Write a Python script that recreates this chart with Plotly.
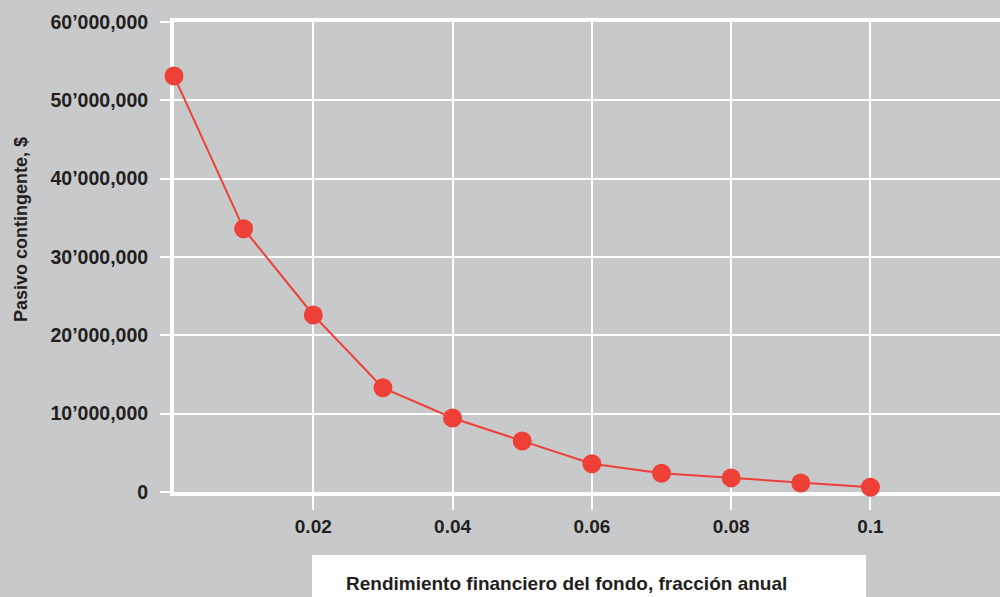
import plotly.graph_objects as go

rendimiento = [0.0, 0.01, 0.02, 0.03, 0.04, 0.05, 0.06, 0.07, 0.08, 0.09, 0.10]
pasivo = [53.1e6, 33.6e6, 22.6e6, 13.3e6, 9.45e6, 6.5e6, 3.6e6, 2.4e6, 1.8e6, 1.15e6, 0.6e6]

y_tickvals = [0, 10e6, 20e6, 30e6, 40e6, 50e6, 60e6]
y_ticktext = ["0", "10’000,000", "20’000,000", "30’000,000", "40’000,000", "50’000,000", "60’000,000"]
x_tickvals = [0.02, 0.04, 0.06, 0.08, 0.1]
x_ticktext = ["0.02", "0.04", "0.06", "0.08", "0.1"]

x_title = "Rendimiento financiero del fondo, fracción anual"
y_title = "Pasivo contingente, $"

BG = "#c8c9cb"
RED = "#ee4036"
TXT = "#231f20"
FONT = "Liberation Sans Narrow, Arial Narrow, Liberation Sans, Arial"

fig = go.Figure()
fig.add_trace(go.Scatter(
    x=rendimiento, y=pasivo, mode="lines+markers",
    line=dict(color=RED, width=2),
    marker=dict(color=RED, size=19),
    cliponaxis=False, hoverinfo="skip",
))

fig.update_layout(
    width=1000, height=597,
    paper_bgcolor=BG, plot_bgcolor=BG,
    margin=dict(l=174, r=0, t=22, b=105, autoexpand=False),
    showlegend=False,
    font=dict(family=FONT, color=TXT, size=19, weight="bold"),
    xaxis=dict(
        range=[0, 0.1186], tickvals=x_tickvals, ticktext=x_ticktext,
        showgrid=True, gridcolor="white", gridwidth=1.5,
        showline=True, linecolor="white", linewidth=4, mirror=True,
        ticks="outside", ticklen=14, tickcolor="white", tickwidth=1.5,
        ticklabelstandoff=0, layer="below traces", zeroline=False,
        tickfont=dict(family=FONT, size=19, color=TXT, weight="bold"),
    ),
    yaxis=dict(
        range=[0, 60e6], tickvals=y_tickvals, ticktext=y_ticktext,
        showgrid=True, gridcolor="white", gridwidth=1.5,
        showline=True, linecolor="white", linewidth=4,
        ticks="outside", ticklen=10, tickcolor="white", tickwidth=1.5,
        ticklabelstandoff=8, layer="below traces", zeroline=False,
        tickfont=dict(family=FONT, size=19.5, color=TXT, weight="bold"),
    ),
    shapes=[dict(
        type="rect", xref="paper", yref="paper",
        x0=(312 - 174) / 826, x1=(866 - 174) / 826,
        y0=(492 - 600) / 470, y1=(492 - 555) / 470,
        fillcolor="white", line=dict(width=0), layer="below",
    )],
    annotations=[
        dict(text=x_title, xref="paper", yref="paper",
             x=(566 - 174) / 826, y=(492 - 583) / 470,
             xanchor="center", yanchor="middle", showarrow=False,
             font=dict(family=FONT, size=19, color=TXT, weight="bold")),
        dict(text=y_title, xref="paper", yref="paper",
             x=(21 - 174) / 826, y=(492 - 230) / 470, textangle=-90,
             xanchor="center", yanchor="middle", showarrow=False,
             font=dict(family=FONT, size=18, color=TXT, weight="bold")),
    ],
)

fig.write_html(
    "out.html",
    config={"displayModeBar": False},
    post_script="document.body.style.margin='0';document.body.style.padding='0';document.body.style.overflow='hidden';",
)
